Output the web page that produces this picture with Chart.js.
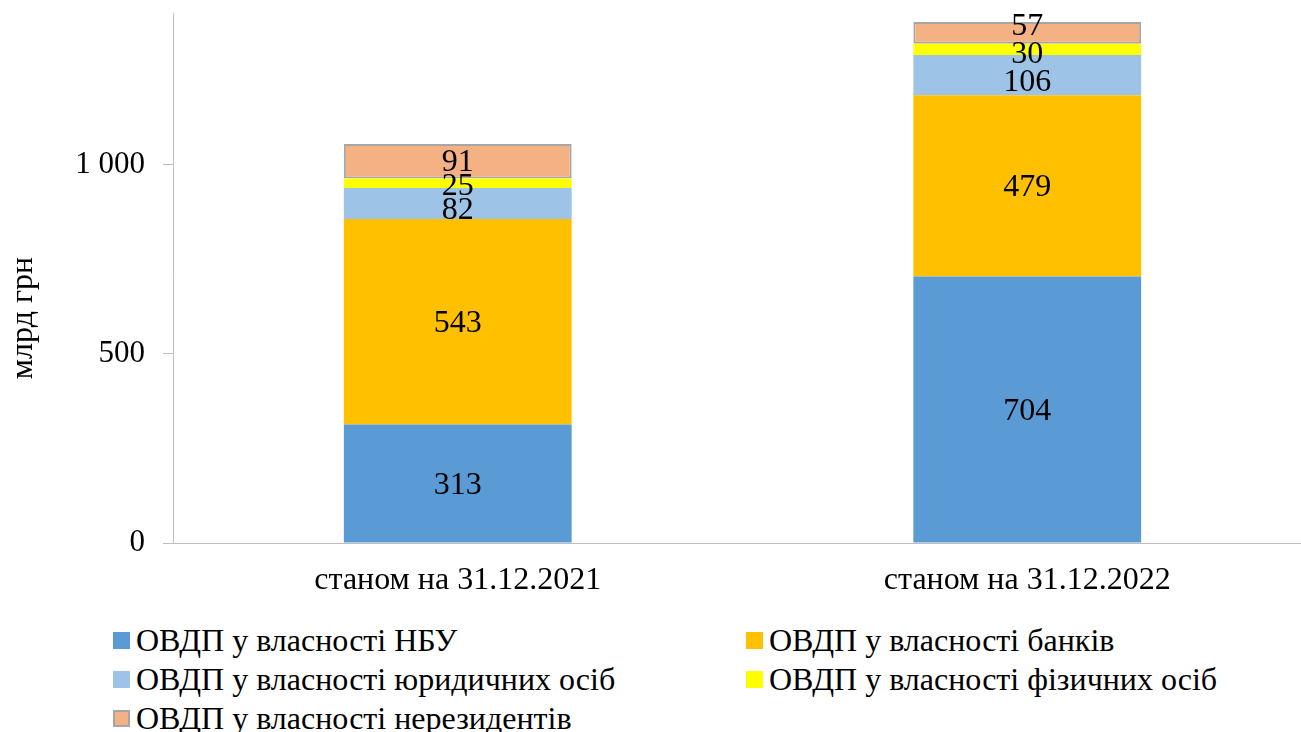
<!DOCTYPE html>
<html>
<head>
<meta charset="utf-8">
<script src="https://cdn.jsdelivr.net/npm/chart.js@4"></script>
<style>
  html, body { margin: 0; padding: 0; background: #fff; overflow: hidden; width: 1301px; height: 732px; }
  #wrap { position: relative; width: 1301px; height: 732px; overflow: hidden; }
  canvas { position: absolute; left: 0; top: 0; }
  .lg { position: absolute; display: flex; align-items: center; height: 40px; font-family: 'Liberation Serif', 'Times New Roman', serif; font-size: 32px; color: #000; white-space: nowrap; }
  .lg .bx { width: 17px; height: 17px; margin-right: 6px; box-sizing: border-box; flex: none; }
</style>
</head>
<body>
<div id="wrap">
  <canvas id="c" width="1312" height="610"></canvas>
  <div id="legend"></div>
</div>
<script>
const categories = ["станом на 31.12.2021", "станом на 31.12.2022"];
const seriesNames = [
  "ОВДП у власності НБУ",
  "ОВДП у власності банків",
  "ОВДП у власності юридичних осіб",
  "ОВДП у власності фізичних осіб",
  "ОВДП у власності нерезидентів"
];
const nbu = [313, 704];
const banks = [543, 479];
const legalEntities = [82, 106];
const individuals = [25, 30];
const nonResidents = [91, 57];
const yTickValues = [0, 500, 1000];
const yTitle = "млрд грн";

const seriesValues = [nbu, banks, legalEntities, individuals, nonResidents];
const colors = ["#5B9BD5", "#FFC000", "#9DC3E6", "#FFFF00", "#F4B183"];
const FONT = "'Liberation Serif', 'Times New Roman', serif";

// small vertical nudges for crowded data labels (dataset index -> per-category px)
const labelNudge = { 2: [5, 6], 3: [1, 3], 4: [-1, -8] };

const datasets = seriesValues.map((vals, i) => ({
  label: seriesNames[i],
  data: vals,
  backgroundColor: colors[i],
  borderColor: i === 4 ? "#A6A6A6" : colors[i],
  borderWidth: i === 4 ? 2 : 0,
  borderSkipped: false,
  barPercentage: 0.4,
  categoryPercentage: 1.0
}));

const labelPlugin = {
  id: "segLabels",
  afterDatasetsDraw(chart) {
    const ctx = chart.ctx;
    ctx.save();
    ctx.font = "32px " + FONT;
    ctx.fillStyle = "#000";
    ctx.textAlign = "center";
    ctx.textBaseline = "middle";
    chart.data.datasets.forEach((ds, i) => {
      const meta = chart.getDatasetMeta(i);
      meta.data.forEach((bar, j) => {
        const p = bar.getProps(["x", "y", "base"], true);
        const dy = labelNudge[i] ? labelNudge[i][j] : 0;
        ctx.fillText(String(ds.data[j]), p.x, (p.y + p.base) / 2 + 2 + dy);
      });
    });
    ctx.restore();
  }
};

const yTitlePlugin = {
  id: "yTitle",
  afterDraw(chart) {
    const ctx = chart.ctx;
    ctx.save();
    ctx.font = "32px " + FONT;
    ctx.fillStyle = "#000";
    ctx.textAlign = "center";
    ctx.textBaseline = "middle";
    ctx.translate(24, 318);
    ctx.rotate(-Math.PI / 2);
    ctx.fillText(yTitle, 0, 0);
    ctx.restore();
  }
};

new Chart(document.getElementById("c"), {
  type: "bar",
  data: { labels: categories, datasets },
  options: {
    responsive: false,
    animation: false,
    devicePixelRatio: 1,
    layout: { padding: { top: 13, left: 0, right: 0, bottom: 0 } },
    plugins: { legend: { display: false }, tooltip: { enabled: false } },
    scales: {
      x: {
        stacked: true,
        grid: { display: true, drawOnChartArea: false, drawTicks: false },
        border: { display: true, color: "#BFBFBF", width: 1 },
        ticks: { color: "#000", font: { family: FONT, size: 32 }, padding: 18, maxRotation: 0 },
        afterFit(s) { s.height = 67; s.paddingLeft = 0; s.paddingRight = 0; }
      },
      y: {
        stacked: true,
        min: 0,
        max: 1400,
        grid: { display: true, drawOnChartArea: false, drawTicks: true, tickLength: 10, color: "#BFBFBF" },
        border: { display: true, color: "#BFBFBF", width: 1 },
        ticks: {
          stepSize: 500,
          color: "#000",
          padding: 18,
          font: { family: FONT, size: 31 },
          callback: v => String(v).replace(/\B(?=(\d{3})+(?!\d))/g, " ")
        },
        afterBuildTicks(s) { s.ticks = yTickValues.map(v => ({ value: v })); },
        afterFit(s) { s.width = 173; s.paddingTop = 0; s.paddingBottom = 0; }
      }
    }
  },
  plugins: [labelPlugin, yTitlePlugin]
});

// HTML legend (two columns, as in the reference)
const legendPos = [[113, 620], [746, 620], [113, 659], [746, 659], [113, 698]];
const lg = document.getElementById("legend");
seriesNames.forEach((name, i) => {
  const d = document.createElement("div");
  d.className = "lg";
  d.style.left = legendPos[i][0] + "px";
  d.style.top = legendPos[i][1] + "px";
  const b = document.createElement("span");
  b.className = "bx";
  b.style.background = colors[i];
  if (i === 4) b.style.border = "2px solid #A6A6A6";
  const t = document.createElement("span");
  t.textContent = name;
  d.appendChild(b); d.appendChild(t);
  lg.appendChild(d);
});
</script>
</body>
</html>
